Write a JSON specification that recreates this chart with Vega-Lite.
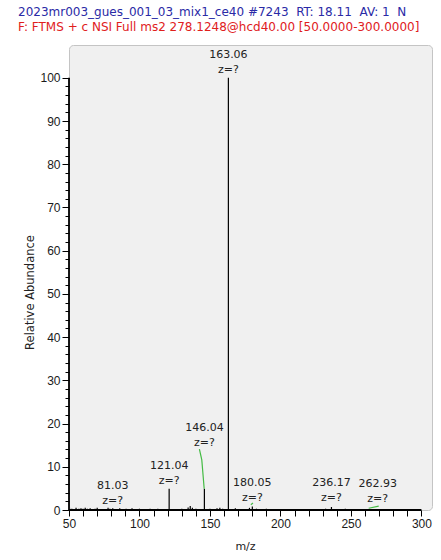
{
  "$schema": "https://vega.github.io/schema/vega-lite/v6.json",
  "autosize": {"type": "none"},
  "width": 363,
  "height": 465,
  "padding": {"left": 69, "top": 45, "right": 9, "bottom": 50},
  "background": "white",
  "config": {
    "view": {"fill": "#f0f0f0", "stroke": "#c4c4c4", "cornerRadius": 4},
    "font": "Liberation Sans"
  },
  "title": {
    "text": "2023mr003_gues_001_03_mix1_ce40 #7243\u00a0 RT: 18.11\u00a0 AV: 1\u00a0 N",
    "subtitle": "F: FTMS + c NSI Full ms2 278.1248@hcd40.00 [50.0000-300.0000]",
    "anchor": "start",
    "frame": "group",
    "dx": -51,
    "offset": 11,
    "font": "DejaVu Sans",
    "fontSize": 12,
    "fontWeight": "normal",
    "color": "#2a2aa6",
    "subtitleFont": "DejaVu Sans",
    "subtitleFontSize": 12,
    "subtitleColor": "#e0201c",
    "subtitlePadding": 3
  },
  "datasets": {
    "sticks": [
      {"mz": 52.0, "intensity": 0.3}, {"mz": 55.0, "intensity": 0.5}, {"mz": 57.0, "intensity": 0.3},
      {"mz": 58.5, "intensity": 0.4}, {"mz": 60.0, "intensity": 0.3}, {"mz": 61.5, "intensity": 0.5},
      {"mz": 63.0, "intensity": 0.3}, {"mz": 65.0, "intensity": 0.4}, {"mz": 68.5, "intensity": 0.3},
      {"mz": 70.0, "intensity": 0.5}, {"mz": 77.7, "intensity": 0.5}, {"mz": 79.0, "intensity": 0.3},
      {"mz": 81.03, "intensity": 0.4}, {"mz": 86.0, "intensity": 0.4}, {"mz": 90.5, "intensity": 0.3},
      {"mz": 94.7, "intensity": 0.4}, {"mz": 100.0, "intensity": 0.3}, {"mz": 107.5, "intensity": 0.3},
      {"mz": 113.0, "intensity": 0.3}, {"mz": 121.04, "intensity": 4.9}, {"mz": 130.0, "intensity": 0.3},
      {"mz": 134.5, "intensity": 0.6}, {"mz": 136.0, "intensity": 0.9}, {"mz": 137.5, "intensity": 0.5},
      {"mz": 140.0, "intensity": 0.3}, {"mz": 146.04, "intensity": 4.9}, {"mz": 150.0, "intensity": 0.3},
      {"mz": 155.0, "intensity": 0.4}, {"mz": 157.0, "intensity": 0.5}, {"mz": 159.0, "intensity": 0.3},
      {"mz": 163.06, "intensity": 100.0}, {"mz": 168.0, "intensity": 0.4}, {"mz": 178.0, "intensity": 0.5},
      {"mz": 180.05, "intensity": 0.8}, {"mz": 183.0, "intensity": 0.3}, {"mz": 190.0, "intensity": 0.3},
      {"mz": 210.0, "intensity": 0.2}, {"mz": 232.0, "intensity": 0.3}, {"mz": 236.17, "intensity": 0.7},
      {"mz": 246.0, "intensity": 0.3}
    ],
    "profile": [
      {"grp": "a", "mz": 145.9, "intensity": 4.9},
      {"grp": "a", "mz": 144.2, "intensity": 11.6},
      {"grp": "a", "mz": 142.5, "intensity": 14.1},
      {"grp": "b", "mz": 179.0, "intensity": 1.2},
      {"grp": "b", "mz": 180.5, "intensity": 1.6},
      {"grp": "c", "mz": 262.6, "intensity": 0.4},
      {"grp": "c", "mz": 269.7, "intensity": 0.9}
    ],
    "labels": [
      {"mz": 81.03, "intensity": 0.0, "label": "81.03"},
      {"mz": 121.04, "intensity": 4.6, "label": "121.04"},
      {"mz": 146.04, "intensity": 13.4, "label": "146.04"},
      {"mz": 163.06, "intensity": 99.7, "label": "163.06"},
      {"mz": 180.05, "intensity": 0.6, "label": "180.05"},
      {"mz": 236.17, "intensity": 0.6, "label": "236.17"},
      {"mz": 269.0, "intensity": 0.4, "label": "262.93"}
    ],
    "frame": [
      {"mz": 50, "mz2": 300, "intensity": 0, "intensity2": 0},
      {"mz": 50, "mz2": 50, "intensity": 0, "intensity2": 100}
    ]
  },
  "encoding": {
    "x": {
      "field": "mz", "type": "quantitative",
      "scale": {"domain": [50, 307.5], "nice": false, "zero": false},
      "axis": {
        "values": [50, 60, 70, 80, 90, 100, 110, 120, 130, 140, 150, 160, 170, 180, 190, 200, 210, 220, 230, 240, 250, 260, 270, 280, 290, 300],
        "labelExpr": "datum.value % 50 === 0 ? datum.label : ''",
        "domain": false, "grid": false,
        "tickColor": "black", "tickSize": 6, "tickWidth": 1,
        "labelFont": "Liberation Sans", "labelFontSize": 12, "labelColor": "#1a1a1a",
        "labelPadding": 2, "labelFlush": false, "labelOverlap": false,
        "title": "m/z", "titleFont": "DejaVu Sans", "titleFontSize": 11, "titleFontWeight": "normal",
        "titleColor": "#222222", "titleX": 176, "titleY": 36, "titleBaseline": "middle", "titleAlign": "center"
      }
    },
    "y": {
      "field": "intensity", "type": "quantitative",
      "scale": {"domain": [0, 107.6], "nice": false},
      "axis": {
        "values": [0, 2, 4, 6, 8, 10, 12, 14, 16, 18, 20, 22, 24, 26, 28, 30, 32, 34, 36, 38, 40, 42, 44, 46, 48, 50, 52, 54, 56, 58, 60, 62, 64, 66, 68, 70, 72, 74, 76, 78, 80, 82, 84, 86, 88, 90, 92, 94, 96, 98, 100],
        "labelExpr": "datum.value % 10 === 0 ? datum.label : ''",
        "domain": false, "grid": false,
        "tickColor": "black", "tickWidth": 1,
        "tickSize": {"condition": {"test": "datum.value % 10 === 0", "value": 7}, "value": 4},
        "labelFont": "Liberation Sans", "labelFontSize": 12, "labelColor": "#1a1a1a",
        "labelPadding": 2, "labelOverlap": false, "labelFlush": false,
        "title": "Relative Abundance", "titleFont": "DejaVu Sans", "titleFontSize": 11.5, "titleFontWeight": "normal",
        "titleColor": "#222222", "titleAngle": -90, "titleX": -39, "titleY": 247, "titleBaseline": "middle", "titleAlign": "center"
      }
    }
  },
  "layer": [
    {
      "data": {"name": "sticks"},
      "mark": {"type": "rule", "color": "black", "strokeWidth": 1.2},
      "encoding": {"y2": {"datum": 0}}
    },
    {
      "data": {"name": "profile"},
      "mark": {"type": "line", "color": "#44bb44", "strokeWidth": 1.2},
      "encoding": {"detail": {"field": "grp"}}
    },
    {
      "data": {"name": "frame"},
      "mark": {"type": "rule", "color": "black", "strokeWidth": 1.8},
      "encoding": {"x2": {"field": "mz2"}, "y2": {"field": "intensity2"}}
    },
    {
      "data": {"name": "labels"},
      "mark": {"type": "text", "fontSize": 11, "font": "DejaVu Sans", "color": "#222222", "baseline": "bottom", "dy": -4},
      "encoding": {"text": {"value": "z=?"}}
    },
    {
      "data": {"name": "labels"},
      "mark": {"type": "text", "fontSize": 11, "font": "DejaVu Sans", "color": "#222222", "baseline": "bottom", "dy": -19},
      "encoding": {"text": {"field": "label"}}
    }
  ]
}
